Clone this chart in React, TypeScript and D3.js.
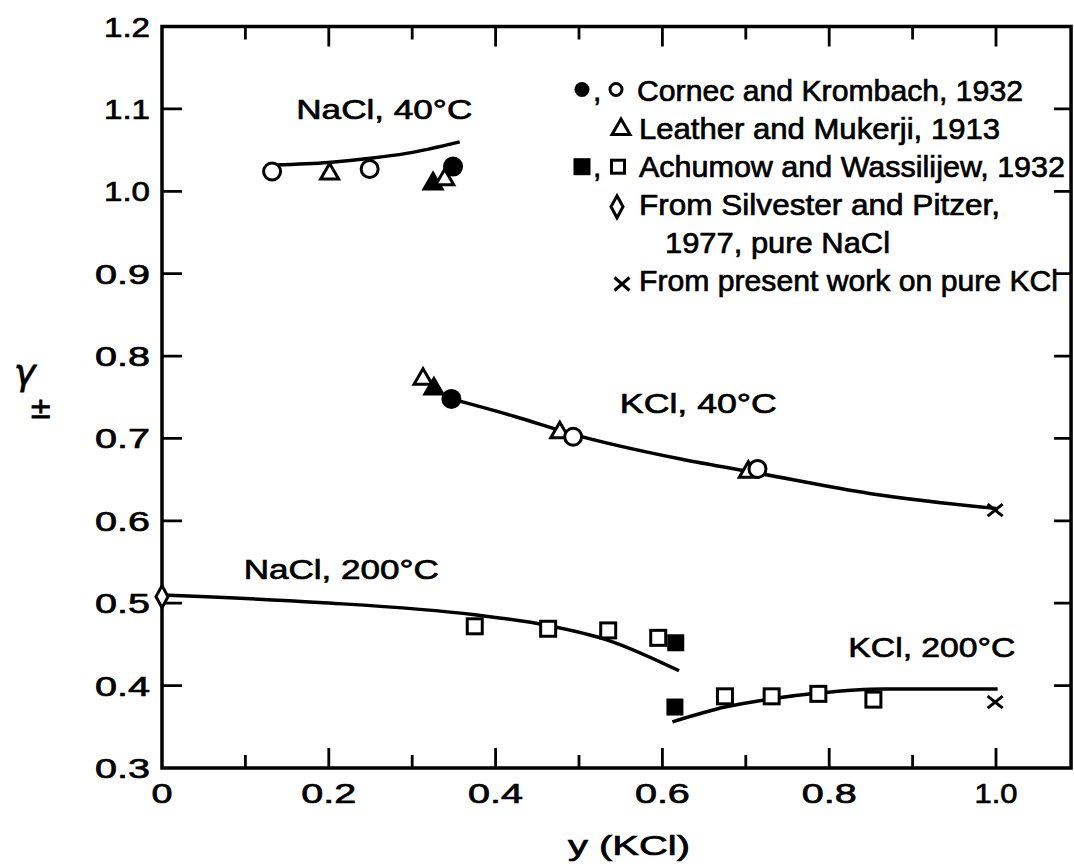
import React from "react";
import * as d3 from "d3";

// ---------- data ----------
type P = [number, number];

// Cornec and Krombach, 1932
const cornecOpen: P[] = [[0.132, 1.024], [0.249, 1.027], [0.493, 0.702], [0.714, 0.663]];
const cornecFilled: P[] = [[0.349, 1.03], [0.347, 0.748]];
// Leather and Mukerji, 1913
const leatherOpen: P[] = [[0.201, 1.022], [0.339, 1.015], [0.313, 0.773], [0.477, 0.708], [0.703, 0.66]];
const leatherFilled: P[] = [[0.325, 1.01], [0.326, 0.761]];
// Achumow and Wassilijew, 1932
const achumowOpen: P[] = [
  [0.375, 0.472], [0.463, 0.469], [0.535, 0.467], [0.595, 0.458],
  [0.675, 0.387], [0.731, 0.387], [0.787, 0.39], [0.853, 0.383],
];
const achumowFilled: P[] = [[0.616, 0.452], [0.615, 0.374]];
// Silvester and Pitzer, pure NaCl
const silvesterPts: P[] = [[0, 0.508]];
// present work, pure KCl
const presentPts: P[] = [[0.999, 0.613], [0.999, 0.38]];

// smoothed curves
const curveNaCl40: P[] = [[0.135, 1.032], [0.2, 1.035], [0.25, 1.04], [0.293, 1.046], [0.357, 1.06]];
const curveKCl40: P[] = [[0.347, 0.748], [0.422, 0.727], [0.493, 0.705], [0.622, 0.675], [0.714, 0.658], [0.85, 0.633], [1.0, 0.615]];
const curveNaCl200: P[] = [[0, 0.51], [0.188, 0.501], [0.375, 0.486], [0.463, 0.473], [0.535, 0.455], [0.62, 0.418]];
const curveKCl200: P[] = [[0.612, 0.356], [0.675, 0.374], [0.731, 0.384], [0.787, 0.391], [0.865, 0.396], [1.002, 0.396]];

const xTicks = [0.1, 0.2, 0.3, 0.4, 0.5, 0.6, 0.7, 0.8, 0.9, 1.0];
const xTickLabels = ["0", "0.2", "0.4", "0.6", "0.8", "1.0"];
const xLabelValues = [0, 0.2, 0.4, 0.6, 0.8, 1.0];
const yTicks = [0.4, 0.5, 0.6, 0.7, 0.8, 0.9, 1.0, 1.1];
const yTickLabels = ["0.3", "0.4", "0.5", "0.6", "0.7", "0.8", "0.9", "1.0", "1.1", "1.2"];
const yLabelValues = [0.3, 0.4, 0.5, 0.6, 0.7, 0.8, 0.9, 1.0, 1.1, 1.2];

const curveLabels = [
  { text: "NaCl, 40°C", x: 0.161, y: 1.088, w: 176 },
  { text: "KCl, 40°C", x: 0.549, y: 0.731, w: 157 },
  { text: "NaCl, 200°C", x: 0.098, y: 0.53, w: 195 },
  { text: "KCl, 200°C", x: 0.823, y: 0.435, w: 167 },
];

const legendTexts = [
  "Cornec and Krombach, 1932",
  "Leather and Mukerji, 1913",
  "Achumow and Wassilijew, 1932",
  "From Silvester and Pitzer,",
  "1977, pure NaCl",
  "From present work on pure KCl",
];

// ---------- layout ----------
const W = 1074, H = 868;
const X_FRAME_MAX = 1.09;
const xS = d3.scaleLinear().domain([0, 1]).range([162, 996]);
const yS = d3.scaleLinear().domain([0.3, 1.2]).range([768, 26.5]);
const FONT = "'Liberation Sans', Arial, sans-serif";
const TXT = { fontFamily: FONT, fill: "#000", stroke: "#000", strokeWidth: 0.7 } as const;

const line = d3.line<P>().x(d => xS(d[0])).y(d => yS(d[1])).curve(d3.curveMonotoneX);

const triPath = (s: number) => {
  const h = s * 0.866;
  return `M0,${-h * 0.62}L${s / 2},${h * 0.38}L${-s / 2},${h * 0.38}Z`;
};

function Circle({ x, y, filled, r }: { x: number; y: number; filled?: boolean; r?: number }) {
  return filled ? (
    <circle cx={x} cy={y} r={(r ?? 10)} fill="#000" />
  ) : (
    <circle cx={x} cy={y} r={r ?? 8.5} fill="#fff" stroke="#000" strokeWidth={3} />
  );
}
function Tri({ x, y, filled, s }: { x: number; y: number; filled?: boolean; s?: number }) {
  return (
    <path d={triPath(s ?? 18)} transform={`translate(${x},${y})`} fill={filled ? "#000" : "#fff"}
      stroke="#000" strokeWidth={3} strokeLinejoin="miter" />
  );
}
function Sq({ x, y, filled, s }: { x: number; y: number; filled?: boolean; s?: number }) {
  const a = s ?? 15;
  return filled ? (
    <rect x={x - 8.5} y={y - 8.5} width={17} height={17} fill="#000" />
  ) : (
    <rect x={x - a / 2} y={y - a / 2} width={a} height={a} fill="#fff" stroke="#000" strokeWidth={3} />
  );
}
function Diamond({ x, y, w, h }: { x: number; y: number; w?: number; h?: number }) {
  const hw = (w ?? 12) / 2, hh = (h ?? 22) / 2;
  return (
    <path d={`M${x},${y - hh}L${x + hw},${y}L${x},${y + hh}L${x - hw},${y}Z`} fill="#fff" stroke="#000" strokeWidth={3} />
  );
}
function Cross({ x, y, w, h }: { x: number; y: number; w?: number; h?: number }) {
  const hw = (w ?? 15) / 2, hh = (h ?? 12) / 2;
  return (
    <path d={`M${x - hw},${y - hh}L${x + hw},${y + hh}M${x + hw},${y - hh}L${x - hw},${y + hh}`} stroke="#000" strokeWidth={3} fill="none" />
  );
}

export default function App() {
  const left = xS(0), right = xS(X_FRAME_MAX), top = yS(1.2), bottom = yS(0.3);
  const legX = 582, legY0 = 100.5, legDy = 38.1;
  const legTextX = [637, 639, 639, 639, 665, 639];
  const legW = [386, 361, 426, 361, 225, 419];

  // tick path built from the scales
  let tickD = "";
  xTicks.forEach(t => {
    const major = Math.round(t * 10) % 2 === 0;
    const len = major ? 20 : 13;
    const x = xS(t);
    tickD += `M${x},${bottom}V${bottom - len}M${x},${top}V${top + len}`;
  });
  yTicks.forEach(t => {
    const y = yS(t);
    tickD += `M${left},${y}H${left + 20}M${right},${y}H${right - 17}`;
  });

  return (
    <svg width={W} height={H} viewBox={`0 0 ${W} ${H}`} style={{ display: "block", position: "absolute", left: 0, top: 0, background: "#fff" }}>
      <rect width={W} height={H} fill="#fff" />
      {/* frame */}
      <path d={`M${left},${top}H${right}V${bottom}H${left}Z`} fill="none" stroke="#000" strokeWidth={3.5} />
      {/* ticks */}
      <path d={tickD} fill="none" stroke="#000" strokeWidth={2.8} />
      {/* tick labels */}
      {yLabelValues.map((v, i) => (
        <text key={"yl" + i} x={150} y={yS(v) + 10} textAnchor="end" {...TXT} fontSize={28}
          textLength={yTickLabels[i].startsWith("1") ? 46 : 55} lengthAdjust="spacingAndGlyphs">{yTickLabels[i]}</text>
      ))}
      {xLabelValues.map((v, i) => (
        <text key={"xl" + i} x={xS(v)} y={803} textAnchor="middle" {...TXT} fontSize={28}
          textLength={xTickLabels[i] === "0" ? 21 : xTickLabels[i].startsWith("1") ? 43 : 55} lengthAdjust="spacingAndGlyphs">{xTickLabels[i]}</text>
      ))}
      {/* axis titles */}
      <text x={568} y={855} {...TXT} fontSize={28} textLength={122} lengthAdjust="spacingAndGlyphs">y (KCl)</text>
      <text x={14} y={385} fontFamily="'DejaVu Sans', sans-serif" fontSize={36} fontStyle="italic" stroke="#000" strokeWidth={0.8}>γ</text>
      <text x={29} y={418} fontFamily="'DejaVu Sans', sans-serif" fontSize={28} stroke="#000" strokeWidth={0.8}>±</text>

      {/* curves */}
      {[curveNaCl40, curveKCl40, curveNaCl200, curveKCl200].map((c, i) => (
        <path key={"c" + i} d={line(c) ?? ""} fill="none" stroke="#000" strokeWidth={3.5} />
      ))}

      {/* curve labels */}
      {curveLabels.map((l, i) => (
        <text key={"cl" + i} x={xS(l.x)} y={yS(l.y)} {...TXT} fontSize={28} textLength={l.w} lengthAdjust="spacingAndGlyphs">{l.text}</text>
      ))}

      {/* markers */}
      {achumowOpen.map((d, i) => <Sq key={"ao" + i} x={xS(d[0])} y={yS(d[1])} />)}
      {achumowFilled.map((d, i) => <Sq key={"af" + i} x={xS(d[0])} y={yS(d[1])} filled />)}
      {leatherFilled.map((d, i) => <Tri key={"lf" + i} x={xS(d[0])} y={yS(d[1])} filled />)}
      {leatherOpen.map((d, i) => <Tri key={"lo" + i} x={xS(d[0])} y={yS(d[1])} />)}
      {cornecOpen.map((d, i) => <Circle key={"co" + i} x={xS(d[0])} y={yS(d[1])} />)}
      {cornecFilled.map((d, i) => <Circle key={"cf" + i} x={xS(d[0])} y={yS(d[1])} filled />)}
      {silvesterPts.map((d, i) => <Diamond key={"sp" + i} x={xS(d[0])} y={yS(d[1])} />)}
      {presentPts.map((d, i) => <Cross key={"pp" + i} x={xS(d[0])} y={yS(d[1])} />)}

      {/* legend */}
      <g>
        <Circle x={legX} y={legY0 - 11} filled r={7.5} />
        <text x={593} y={legY0} {...TXT} fontSize={30}>,</text>
        <Circle x={616} y={legY0 - 11} r={6} />
        <Tri x={621} y={legY0 + legDy - 10} s={18} />
        <Sq x={legX} y={legY0 + 2 * legDy - 10} filled />
        <text x={593} y={legY0 + 2 * legDy} {...TXT} fontSize={30}>,</text>
        <Sq x={618} y={legY0 + 2 * legDy - 10} s={13} />
        <Diamond x={617} y={legY0 + 3 * legDy - 8} w={12} h={22} />
        <Cross x={622} y={legY0 + 5 * legDy - 7} w={15} h={13} />
        {legendTexts.map((t, i) => (
          <text key={"lt" + i} x={legTextX[i]} y={legY0 + i * legDy} {...TXT} fontSize={30}
            textLength={legW[i]} lengthAdjust="spacingAndGlyphs">{t}</text>
        ))}
      </g>
    </svg>
  );
}
